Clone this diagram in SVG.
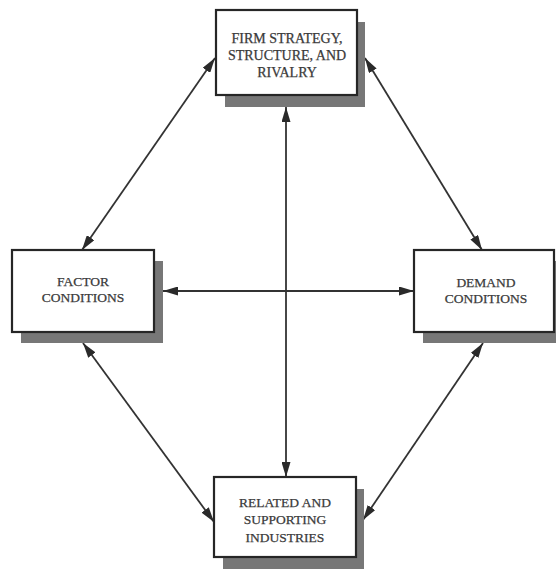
<svg xmlns="http://www.w3.org/2000/svg" width="556" height="569" viewBox="0 0 556 569">
<style>
  .shadow { fill: #777777; }
  .box { fill: #ffffff; stroke: #262626; stroke-width: 2.2; }
  .lbl { font-family: "Liberation Serif", "Times New Roman", serif; font-size: 13.5px; fill: #3a3a3a; stroke: #3a3a3a; stroke-width: 0.25; text-anchor: middle; }
  .conn { stroke: #333333; stroke-width: 1.8; fill: none; marker-start: url(#ah); marker-end: url(#ah); }
</style>
<defs>
  <marker id="ah" markerUnits="userSpaceOnUse" markerWidth="15" markerHeight="9" refX="15" refY="4.5" orient="auto-start-reverse" viewBox="0 0 15 9">
    <path d="M0,0 L15,4.5 L0,9 Z" fill="#2a2a2a"/>
  </marker>
</defs>
<rect width="556" height="569" fill="#ffffff"/>

<g id="connectors">
  <line class="conn" x1="215" y1="58" x2="82" y2="250"/>
  <line class="conn" x1="365" y1="58" x2="482" y2="250"/>
  <line class="conn" x1="83" y1="343" x2="214" y2="522"/>
  <line class="conn" x1="483" y1="343" x2="363" y2="520"/>
  <line class="conn" x1="163" y1="291" x2="414" y2="291"/>
  <line class="conn" x1="286" y1="107" x2="286" y2="477"/>
</g>

<g id="firm">
  <rect class="shadow" x="225" y="22" width="140" height="85"/>
  <rect class="box" x="216" y="10" width="141" height="85"/>
  <text class="lbl" style="font-size:14px" x="287" y="43">FIRM STRATEGY,</text>
  <text class="lbl" style="font-size:14px" x="287" y="60">STRUCTURE, AND</text>
  <text class="lbl" style="font-size:14px" x="287" y="77">RIVALRY</text>
</g>

<g id="factor">
  <rect class="shadow" x="21" y="261" width="142" height="82"/>
  <rect class="box" x="12" y="250" width="142" height="82"/>
  <text class="lbl" x="83" y="286">FACTOR</text>
  <text class="lbl" x="83" y="302">CONDITIONS</text>
</g>

<g id="demand">
  <rect class="shadow" x="423" y="261" width="142" height="82"/>
  <rect class="box" x="414" y="250" width="140" height="82"/>
  <text class="lbl" x="486" y="287">DEMAND</text>
  <text class="lbl" x="486" y="303">CONDITIONS</text>
</g>

<g id="related">
  <rect class="shadow" x="223" y="489" width="141" height="82"/>
  <rect class="box" x="214" y="477" width="142" height="80"/>
  <text class="lbl" x="285" y="507">RELATED AND</text>
  <text class="lbl" x="285" y="524">SUPPORTING</text>
  <text class="lbl" x="285" y="542">INDUSTRIES</text>
</g>
</svg>
